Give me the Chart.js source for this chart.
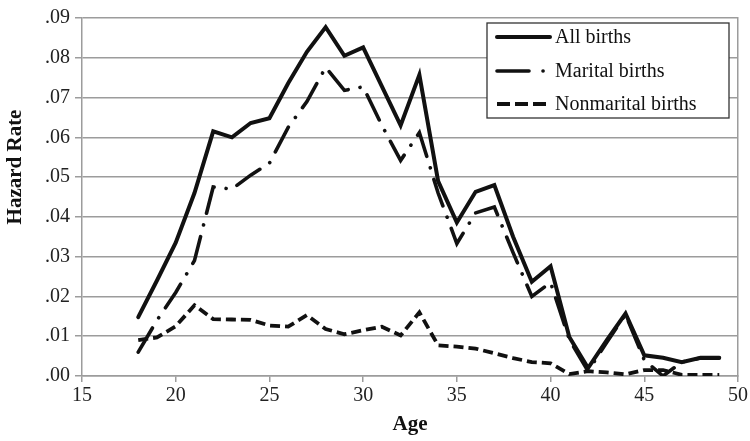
<!DOCTYPE html>
<html><head><meta charset="utf-8">
<script src="https://cdn.jsdelivr.net/npm/chart.js@4.4.0/dist/chart.umd.min.js"></script>
<style>html,body{margin:0;padding:0;background:#fff;}</style>
</head><body>
<canvas id="c" width="750" height="441" style="width:750px;height:441px;display:block"></canvas>
<script>
const ages = [18,19,20,21,22,23,24,25,26,27,28,29,30,31,32,33,34,35,36,37,38,39,40,41,42,43,44,45,46,47,48,49];
const allBirths = [0.0148,0.0240,0.0335,0.0460,0.0615,0.0600,0.0636,0.0648,0.0736,0.0815,0.0877,0.0805,0.0826,0.0728,0.0630,0.0757,0.0490,0.0386,0.0463,0.0480,0.0350,0.0237,0.0276,0.0098,0.0020,0.0090,0.0157,0.0052,0.0046,0.0035,0.0046,0.0046];
const maritalBirths = [0.0060,0.0140,0.0210,0.0290,0.0475,0.0470,0.0505,0.0535,0.0625,0.0690,0.0776,0.0718,0.0727,0.0630,0.0542,0.0612,0.0460,0.0333,0.0410,0.0425,0.0310,0.0200,0.0235,0.0092,0.0012,0.0085,0.0155,0.0040,0.0000,0.0035,0.0045,0.0045];
const nonmaritalBirths = [0.0090,0.0097,0.0125,0.0178,0.0143,0.0142,0.0141,0.0127,0.0124,0.0153,0.0118,0.0105,0.0115,0.0124,0.0102,0.0160,0.0077,0.0074,0.0069,0.0057,0.0045,0.0035,0.0032,0.0005,0.0012,0.0009,0.0004,0.0015,0.0015,0.0003,0.0003,0.0003];
const seriesLabels = ['All births','Marital births','Nonmarital births'];
const xTicks = [15,20,25,30,35,40,45,50];
const yTicks = [0,0.01,0.02,0.03,0.04,0.05,0.06,0.07,0.08,0.09];

const FONT = '"Liberation Serif", "DejaVu Serif", serif';
const GRID = '#9c9c9c';
const INK = '#111';

const toPts = vals => ages.map((a,i)=>({x:a,y:vals[i]}));

const overlay = {
  id:'overlay',
  afterDraw(chart){
    const ctx = chart.ctx;
    ctx.save();
    ctx.translate(16, 167);
    ctx.rotate(-Math.PI/2);
    ctx.font = 'bold 21px ' + FONT;
    ctx.fillStyle = INK;
    ctx.textAlign = 'center';
    ctx.textBaseline = 'middle';
    ctx.fillText('Hazard Rate', 0, 0);
    ctx.restore();

    ctx.save();
    const bx = 487, by = 23, bw = 242, bh = 95;
    ctx.fillStyle = '#fff';
    ctx.fillRect(bx, by, bw, bh);
    ctx.strokeStyle = '#333';
    ctx.lineWidth = 1.3;
    ctx.strokeRect(bx, by, bw, bh);
    const rows = [37, 71, 104];
    chart.data.datasets.forEach((ds, i) => {
      const y = rows[i];
      ctx.strokeStyle = ds.borderColor;
      ctx.lineWidth = ds.borderWidth;
      ctx.lineCap = ds.borderCapStyle;
      ctx.setLineDash(ds.legendDash || []);
      ctx.beginPath();
      ctx.moveTo(497, y);
      ctx.lineTo(550, y);
      ctx.stroke();
      ctx.setLineDash([]);
      ctx.font = '20px ' + FONT;
      ctx.fillStyle = INK;
      ctx.textAlign = 'left';
      ctx.textBaseline = 'middle';
      ctx.fillText(ds.label, 555, y + 1);
    });
    ctx.restore();
  }
};

new Chart(document.getElementById('c'), {
  type:'line',
  data:{
    datasets:[
      {label:seriesLabels[0], data:toPts(allBirths), borderColor:INK, borderWidth:4, borderCapStyle:'round', borderJoinStyle:'miter', pointRadius:0, tension:0, legendDash:[]},
      {label:seriesLabels[1], data:toPts(maritalBirths), borderColor:INK, borderWidth:3.6, borderDash:[28,12,0.1,12], borderCapStyle:'round', borderJoinStyle:'miter', pointRadius:0, tension:0, legendDash:[32,14,0.1,20]},
      {label:seriesLabels[2], data:toPts(nonmaritalBirths), borderColor:INK, borderWidth:3.8, borderDash:[10,5], borderCapStyle:'butt', borderJoinStyle:'miter', pointRadius:0, tension:0, legendDash:[13,5]}
    ]
  },
  options:{
    responsive:false,
    animation:false,
    devicePixelRatio:1,
    layout:{padding:{top:18,right:12,bottom:0,left:0}},
    plugins:{legend:{display:false}, tooltip:{enabled:false}},
    scales:{
      x:{
        type:'linear', min:15, max:50,
        afterBuildTicks: s => { s.ticks = xTicks.map(v=>({value:v})); },
        afterFit: s => { s.height = 65; },
        grid:{drawOnChartArea:false, drawTicks:true, tickLength:6, color:GRID, lineWidth:1.5},
        border:{color:GRID, width:1.5},
        ticks:{font:{family:FONT, size:20}, color:'#222', padding:2, maxRotation:0},
        title:{display:true, text:'Age', font:{family:FONT, size:21, weight:'bold'}, color:INK, padding:{top:0,bottom:4}}
      },
      y:{
        type:'linear', min:0, max:0.09,
        afterBuildTicks: s => { s.ticks = yTicks.map(v=>({value:v})); },
        afterFit: s => { s.width = 82; },
        grid:{drawTicks:true, tickLength:7, color:GRID, lineWidth:1.5},
        border:{color:GRID, width:1.5},
        ticks:{font:{family:FONT, size:20}, color:'#222', padding:5, callback: v => v.toFixed(2).replace(/^0/, '')}
      },
      y2:{
        type:'linear', position:'right', min:0, max:0.09,
        afterFit: s => { s.width = 0; },
        grid:{display:false, drawTicks:false},
        border:{display:true, color:GRID, width:1.5},
        ticks:{display:false}
      }
    }
  },
  plugins:[overlay]
});
</script>
</body></html>
